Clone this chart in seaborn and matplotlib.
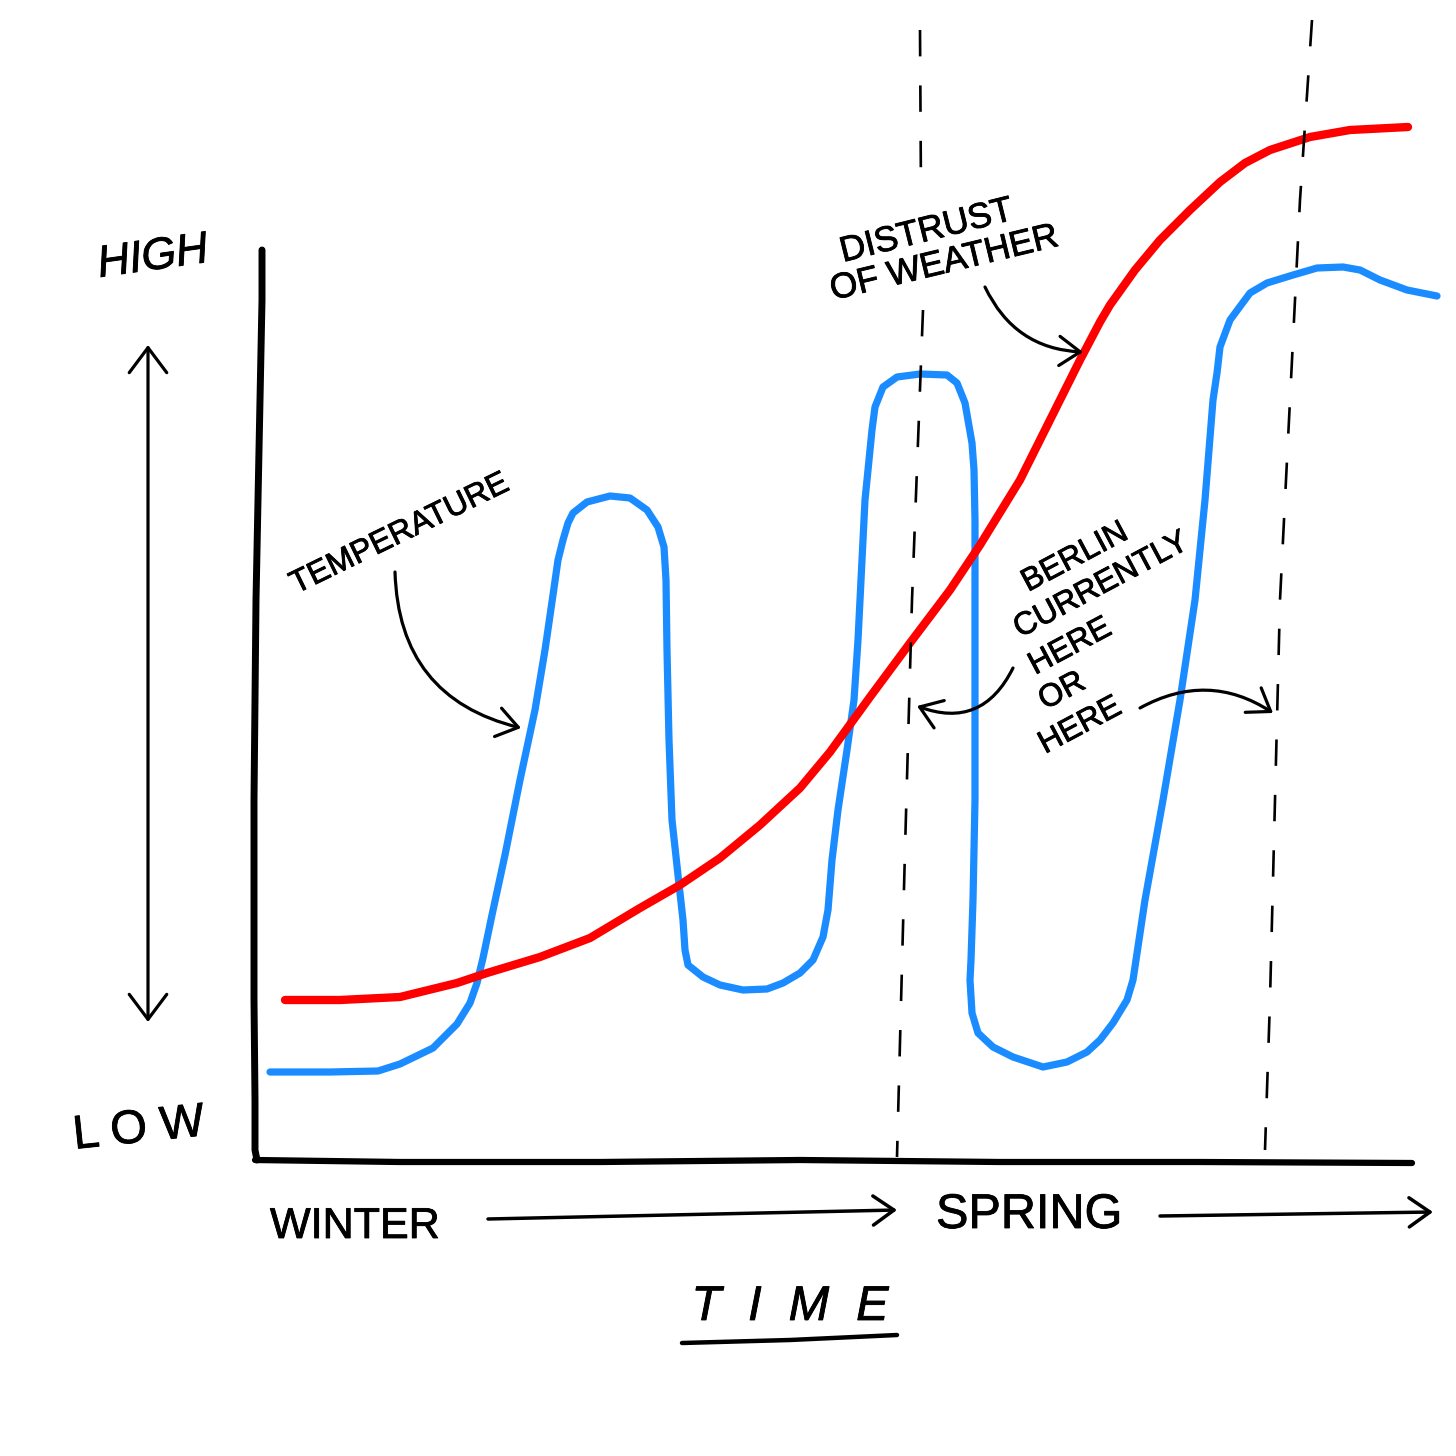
import matplotlib
matplotlib.use("Agg")
import matplotlib.pyplot as plt
import matplotlib.patheffects as pe
import seaborn as sns
import pandas as pd

# ---- data (in picture coordinates) ----
temp_x = [270, 330, 378, 400, 433, 457, 470, 477, 483, 492, 505, 520, 535, 545, 553, 558, 563, 568, 573, 587, 610, 630, 647, 658, 664, 666, 667, 669, 672, 678, 683, 685, 688, 703, 720, 743, 767, 783, 800, 813, 823, 828, 832, 838, 847, 854, 858, 862, 865, 868, 872, 875, 883, 897, 920, 947, 957, 965, 972, 974, 975, 975, 975, 973, 971, 970, 972, 978, 993, 1013, 1043, 1067, 1087, 1100, 1113, 1127, 1133, 1145, 1163, 1180, 1195, 1205, 1213, 1217, 1220, 1230, 1250, 1267, 1293, 1317, 1343, 1360, 1380, 1407, 1437]
temp_y = [1072, 1072, 1071, 1064, 1048, 1024, 1003, 983, 958, 915, 855, 780, 710, 650, 595, 560, 540, 523, 513, 502, 496, 498, 510, 527, 547, 580, 650, 740, 820, 875, 920, 950, 965, 977, 985, 990, 989, 983, 973, 960, 937, 910, 860, 810, 750, 700, 640, 560, 500, 470, 430, 407, 387, 377, 374, 375, 383, 403, 443, 470, 520, 650, 800, 900, 960, 980, 1013, 1033, 1047, 1057, 1067, 1062, 1052, 1040, 1023, 1000, 980, 900, 800, 700, 600, 500, 400, 373, 347, 320, 293, 283, 275, 268, 267, 270, 280, 290, 296]

distrust_x = [285, 340, 400, 457, 487, 540, 590, 640, 680, 720, 760, 800, 830, 870, 910, 950, 980, 1020, 1050, 1080, 1100, 1110, 1135, 1160, 1190, 1220, 1245, 1270, 1310, 1350, 1408]
distrust_y = [1000, 1000, 997, 983, 973, 957, 938, 908, 885, 858, 825, 788, 752, 697, 643, 590, 545, 480, 420, 360, 322, 305, 270, 240, 210, 182, 163, 150, 137, 130, 127]

yaxis_x = [262, 262, 260, 258, 256, 255, 254, 254, 254, 255, 255, 257]
yaxis_y = [250, 300, 400, 500, 600, 700, 800, 900, 1000, 1100, 1150, 1160]
xaxis_x = [255, 400, 600, 800, 1000, 1200, 1412]
xaxis_y = [1160, 1162, 1162, 1160, 1162, 1162, 1163]

dash1a_x = [920, 921]
dash1a_y = [30, 195]
dash1b_x = [923, 912, 905, 897]
dash1b_y = [310, 600, 850, 1157]
dash2_x = [1312, 1300, 1290, 1280, 1275, 1270, 1265]
dash2_y = [20, 200, 400, 600, 800, 1000, 1150]

berlin_lines = ["BERLIN", "CURRENTLY", "HERE", "OR", "HERE"]
berlin_x = [1028, 1020, 1035, 1045, 1045]
berlin_y = [592, 638, 675, 710, 754]

# ---- figure ----
sns.set_theme(style="white")
plt.rcParams['font.family'] = ['Liberation Sans', 'DejaVu Sans']
fig = plt.figure(figsize=(14.56, 14.56), dpi=100)
ax = fig.add_axes([0, 0, 1, 1])
ax.set_xlim(0, 1456)
ax.set_ylim(1456, 0)
ax.axis("off")
fig.patch.set_facecolor("white")

def draw(xs, ys, **kw):
    df = pd.DataFrame({"x": xs, "y": ys})
    sns.lineplot(data=df, x="x", y="y", sort=False, estimator=None, ax=ax, **kw)

draw(temp_x, temp_y, color="#1a8cff", linewidth=5.2, solid_capstyle="round", solid_joinstyle="round")
draw(distrust_x, distrust_y, color="#ff0000", linewidth=6.0, solid_capstyle="round", solid_joinstyle="round")
draw(yaxis_x, yaxis_y, color="black", linewidth=5.0, solid_capstyle="round")
draw(xaxis_x, xaxis_y, color="black", linewidth=4.5, solid_capstyle="round")
for dx, dy in [(dash1a_x, dash1a_y), (dash1b_x, dash1b_y), (dash2_x, dash2_y)]:
    draw(dx, dy, color="black", linewidth=1.9, linestyle=(0, (10, 11)))

stroke = [pe.withStroke(linewidth=0.6, foreground="black")]
txt = dict(color="black", fontweight="normal", path_effects=stroke)

def arrow(start, end, rad=0.0, lw=2.3, style="->", hl=0.5, hw=0.35):
    ax.annotate("", xy=end, xytext=start,
                arrowprops=dict(arrowstyle=f"{style},head_length={hl},head_width={hw}",
                                connectionstyle=f"arc3,rad={rad}",
                                color="black", lw=lw, mutation_scale=30,
                                shrinkA=0, shrinkB=0))

# vertical HIGH/LOW arrow
arrow((148, 1022), (148, 345), style="<->", hl=0.6, hw=0.45)
ax.text(153, 258, "HIGH", fontsize=32, style="italic", rotation=8, ha="center", va="center", **txt)
ax.text(139, 1130, "L O W", fontsize=34, rotation=6, ha="center", va="center", **txt)

# annotations
ax.text(296, 594, "TEMPERATURE", fontsize=23, rotation=26, rotation_mode="anchor", ha="left", va="baseline", **txt)
arrow((395, 572), (521, 728), rad=0.38)

ax.text(843, 262, "DISTRUST", fontsize=25.5, rotation=14, rotation_mode="anchor", ha="left", va="baseline", **txt)
ax.text(833, 300, "OF WEATHER", fontsize=25.5, rotation=13.5, rotation_mode="anchor", ha="left", va="baseline", **txt)
arrow((985, 287), (1083, 352), rad=0.3)

for s, bx, by in zip(berlin_lines, berlin_x, berlin_y):
    ax.text(bx, by, s, fontsize=23, rotation=28, rotation_mode="anchor", ha="left", va="baseline", **txt)
arrow((1013, 668), (917, 706), rad=-0.45)
arrow((1140, 708), (1273, 713), rad=-0.3)

# time axis labels
ax.text(270, 1238, "WINTER", fontsize=31, ha="left", va="baseline", **txt)
arrow((488, 1219), (897, 1210), lw=2.5)
ax.text(936, 1228, "SPRING", fontsize=35, ha="left", va="baseline", **txt)
arrow((1160, 1216), (1433, 1212), lw=2.5)

ax.text(790, 1320, "T  I  M  E", fontsize=35, style="italic", ha="center", va="baseline", **txt)
draw([682, 790, 897], [1343, 1340, 1335], color="black", linewidth=3.2, solid_capstyle="round")

fig.savefig("out.png", dpi=100, facecolor="white")
